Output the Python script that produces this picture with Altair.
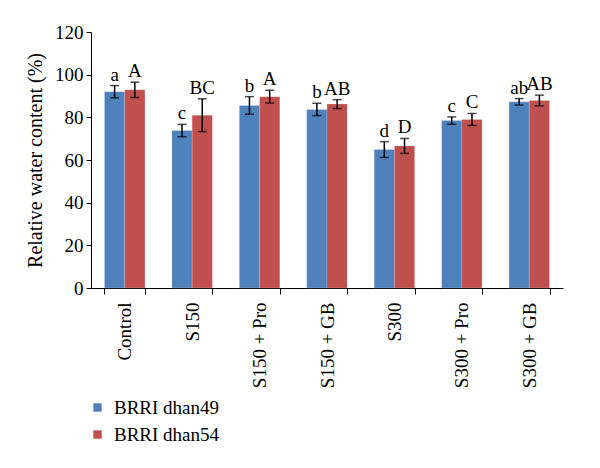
import altair as alt
import pandas as pd

categories = ["Control", "S150", "S150 + Pro", "S150 + GB", "S300", "S300 + Pro", "S300 + GB"]
series = ["BRRI dhan49", "BRRI dhan54"]
dhan49 = [92.0, 73.8, 85.6, 83.7, 64.9, 78.5, 87.3]
dhan49_err = [2.9, 2.9, 4.1, 2.9, 3.7, 1.7, 1.5]
dhan54 = [92.9, 81.0, 89.7, 86.2, 66.6, 79.0, 87.9]
dhan54_err = [3.6, 7.7, 3.0, 2.1, 3.5, 2.8, 2.5]
dhan49_letters = ["a", "c", "b", "b", "d", "c", "ab"]
dhan54_letters = ["A", "BC", "A", "AB", "D", "C", "AB"]
y_ticks = [0, 20, 40, 60, 80, 100, 120]

rows = []
for s, vals, errs, lets in [(series[0], dhan49, dhan49_err, dhan49_letters),
                            (series[1], dhan54, dhan54_err, dhan54_letters)]:
    for c, v, e, l in zip(categories, vals, errs, lets):
        rows.append({"cat": c, "series": s, "value": v, "lo": v - e, "hi": v + e, "letter": l})
df = pd.DataFrame(rows)

FONT = "Liberation Serif"

x = alt.X("cat:N", sort=categories, title=None,
          scale=alt.Scale(paddingInner=0.4, paddingOuter=0.2),
          axis=alt.Axis(labelAngle=-90, labelFont=FONT, labelFontSize=19, labelColor="black",
                        labelPadding=8, tickBand="extent", tickSize=6, domainColor="black",
                        tickColor="black", labelBaseline="middle"))
xo = alt.XOffset("series:N", sort=series, scale=alt.Scale(paddingInner=0, paddingOuter=0))

base = alt.Chart(df)

bars = base.mark_bar(stroke="#ffffff", strokeOpacity=0.35, strokeWidth=0.5).encode(
    x=x, xOffset=xo,
    y=alt.Y("value:Q", scale=alt.Scale(domain=[0, 120], nice=False),
            axis=alt.Axis(values=y_ticks, grid=False, title="Relative water content (%)",
                          titleFont=FONT, titleFontSize=20, titleFontWeight="normal",
                          titleColor="black", titlePadding=9,
                          labelFont=FONT, labelFontSize=19, labelColor="black",
                          tickSize=5, domainColor="black", tickColor="black", labelPadding=3)),
    color=alt.Color("series:N", sort=series,
                    scale=alt.Scale(domain=series, range=["#4F81BD", "#C0504D"]),
                    legend=alt.Legend(title=None, orient="none", legendX=-3, legendY=366,
                                      symbolType="square", symbolSize=70, symbolStrokeWidth=0,
                                      labelFont=FONT, labelFontSize=19, labelColor="black",
                                      rowPadding=7, labelOffset=7)),
)

rules = base.mark_rule(color="black", strokeWidth=1.5).encode(
    x=x, xOffset=xo, y="lo:Q", y2="hi:Q")
caps_hi = base.mark_tick(color="black", thickness=1.5, size=9, orient="horizontal").encode(
    x=x, xOffset=xo, y="hi:Q")
caps_lo = base.mark_tick(color="black", thickness=1.5, size=9, orient="horizontal").encode(
    x=x, xOffset=xo, y="lo:Q")
letters = base.mark_text(font=FONT, fontSize=19, color="black", baseline="alphabetic", dy=-5).encode(
    x=x, xOffset=xo, y="hi:Q", text="letter:N")

chart = alt.layer(bars, rules, caps_hi, caps_lo, letters).properties(
    width=472, height=256,
    autosize=alt.AutoSizeParams(type="none"),
    padding={"left": 83, "top": 24, "right": 29, "bottom": 172},
).configure(font=FONT).configure_view(stroke=None).configure_axis(
    domainWidth=1, tickWidth=1).configure_legend(
    labelFont=FONT, labelFontSize=19, labelColor="black")

chart.save("out.html", embed_options={"renderer": "svg", "actions": False})
